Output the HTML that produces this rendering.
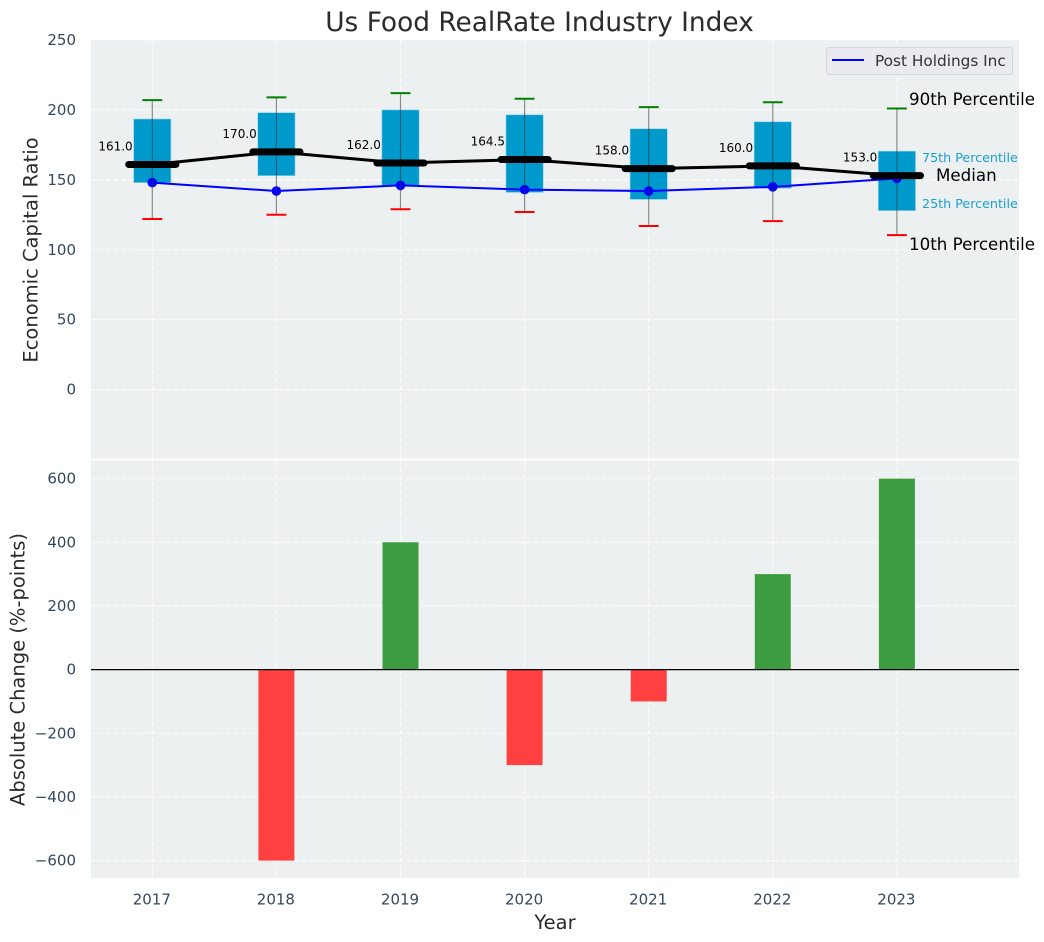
<!DOCTYPE html>
<html><head><meta charset="utf-8"><title>Us Food RealRate Industry Index</title>
<style>
html,body{margin:0;padding:0;background:#fff}
svg{display:block}
text{font-family:"DejaVu Sans","Liberation Sans",sans-serif}
</style></head>
<body>
<svg id="chart" width="1044" height="942" viewBox="0 0 1044 942" xmlns="http://www.w3.org/2000/svg"></svg>
<script>
const years = [2017, 2018, 2019, 2020, 2021, 2022, 2023];
const p90 = [207, 209, 212, 208, 202, 205.5, 201];
const p75 = [193.5, 198, 200, 196.5, 186.5, 191.5, 170.5];
const medians = [161, 170, 162, 164.5, 158, 160, 153];
const p25 = [148, 153, 146, 141, 136, 144, 128];
const p10 = [122, 125, 129, 127, 117, 120.5, 110.5];
const company = [148, 142, 146, 143, 142, 145, 151];
const changes = [0, -600, 400, -300, -100, 300, 600];
const topTicks = [0, 50, 100, 150, 200, 250];
const bottomTicks = [-600, -400, -200, 0, 200, 400, 600];

const svg = document.getElementById('chart');
const NS = 'http://www.w3.org/2000/svg';
function add(tag, attrs, name, text) {
  const e = document.createElementNS(NS, tag);
  for (const k in attrs) e.setAttribute(k, attrs[k]);
  
  
  if (text !== undefined) e.textContent = text;
  svg.appendChild(e);
  return e;
}
const L = 91, R = 1019, T1 = 40, B1 = 459.5, T2 = 459.5, B2 = 878;
const x = v => 152.3 + (v - 2017) * 124.1;
const y1 = v => B1 - (v + 50) / 300 * (B1 - T1);
const y2 = v => 669.6 - v * 0.3183;
const TICK = '#34495e', LABEL = '#2b2b2b', BG = '#ecf0f1', BOX = '#0099cc';
const hw = 0.15, capw = 0.08, medw = 0.19;

add('rect', {x: L, y: T1, width: R - L, height: B1 - T1, fill: BG}, 'top-panel-background');
add('rect', {x: L, y: T2, width: R - L, height: B2 - T2, fill: BG}, 'bottom-panel-background');

const grid = {stroke: '#fff', 'stroke-width': 1.1, 'stroke-dasharray': '5 2.5', opacity: 0.85};
topTicks.forEach(t => {
  add('line', {...grid, x1: L, x2: R, y1: y1(t), y2: y1(t)}, 'top-grid-line-y');
  add('text', {x: 76, y: y1(t) + 5, 'text-anchor': 'end', 'font-size': 15, fill: TICK}, 'top-y-tick-label', String(t));
});
bottomTicks.forEach(t => {
  add('line', {...grid, x1: L, x2: R, y1: y2(t), y2: y2(t)}, 'bottom-grid-line-y');
  add('text', {x: 76, y: y2(t) + 5, 'text-anchor': 'end', 'font-size': 15, fill: TICK}, 'bottom-y-tick-label', String(t).replace('-', '\u2212'));
});
years.forEach(yr => {
  add('line', {...grid, x1: x(yr), x2: x(yr), y1: T1, y2: B1}, 'top-grid-line-x');
  add('line', {...grid, x1: x(yr), x2: x(yr), y1: T2, y2: B2}, 'bottom-grid-line-x');
  add('text', {x: x(yr) - 0.5, y: 904.5, 'text-anchor': 'middle', 'font-size': 15, fill: TICK}, 'x-tick-label', String(yr));
});
add('line', {x1: L, x2: R, y1: B1, y2: B1, stroke: '#fff', 'stroke-width': 2}, 'panel-divider');

/* boxes */
years.forEach((yr, i) => {
  add('rect', {x: x(yr - hw), y: y1(p75[i]), width: x(yr + hw) - x(yr - hw), height: y1(p25[i]) - y1(p75[i]), fill: BOX, stroke: '#8fd0e6', 'stroke-width': 0.6}, 'box-' + yr);
});
/* company line */
add('polyline', {points: years.map((yr, i) => x(yr) + ',' + y1(company[i])).join(' '), fill: 'none', stroke: '#0000ff', 'stroke-width': 2}, 'post-holdings-line');
years.forEach((yr, i) => {
  add('circle', {cx: x(yr), cy: y1(company[i]), r: 4.8, fill: '#0000ff'}, 'post-holdings-point-' + yr);
});
/* whiskers */
years.forEach((yr, i) => {
  add('line', {x1: x(yr), x2: x(yr), y1: y1(p90[i]), y2: y1(p10[i]), stroke: '#333', 'stroke-opacity': 0.55, 'stroke-width': 1.2}, 'whisker-' + yr);
  add('line', {x1: x(yr - capw), x2: x(yr + capw), y1: y1(p90[i]), y2: y1(p90[i]), stroke: '#008000', 'stroke-width': 2}, 'p90-cap-' + yr);
  add('line', {x1: x(yr - capw), x2: x(yr + capw), y1: y1(p10[i]), y2: y1(p10[i]), stroke: '#ff0000', 'stroke-width': 2}, 'p10-cap-' + yr);
});
/* median */
add('polyline', {points: years.map((yr, i) => x(yr) + ',' + y1(medians[i])).join(' '), fill: 'none', stroke: '#000', 'stroke-width': 3}, 'median-line');
years.forEach((yr, i) => {
  add('line', {x1: x(yr - medw), x2: x(yr + medw), y1: y1(medians[i]), y2: y1(medians[i]), stroke: '#000', 'stroke-width': 7, 'stroke-linecap': 'round'}, 'median-bar-' + yr);
  add('text', {x: x(yr - hw) - 1, y: y1(medians[i]) - 14, 'text-anchor': 'end', 'font-size': 12, fill: '#000'}, 'median-value-label', medians[i].toFixed(1));
});
/* percentile annotations */
add('text', {x: 909, y: 105, 'font-size': 16.7, fill: '#000'}, 'annotation-90th-percentile', '90th Percentile');
add('text', {x: 922, y: 162, 'font-size': 12.7, fill: '#1a9fd0'}, 'annotation-75th-percentile', '75th Percentile');
add('text', {x: 936, y: 181, 'font-size': 16.7, fill: '#000'}, 'annotation-median', 'Median');
add('text', {x: 922, y: 208, 'font-size': 12.7, fill: '#1a9fd0'}, 'annotation-25th-percentile', '25th Percentile');
add('text', {x: 909, y: 250, 'font-size': 16.7, fill: '#000'}, 'annotation-10th-percentile', '10th Percentile');

/* legend */
add('rect', {x: 826.5, y: 47.5, width: 186, height: 27, rx: 3, fill: '#e9ebf0', stroke: '#d3d6da', 'stroke-width': 1}, 'legend-box');
add('line', {x1: 832, x2: 864, y1: 60, y2: 60, stroke: '#0000ff', 'stroke-width': 2}, 'legend-line-post-holdings');
add('text', {x: 875, y: 66, 'font-size': 15.3, fill: '#333'}, 'legend-label-post-holdings', 'Post Holdings Inc');

/* change bars */
years.forEach((yr, i) => {
  if (changes[i] === 0) return;
  const top = y2(Math.max(changes[i], 0)), bot = y2(Math.min(changes[i], 0));
  add('rect', {x: x(yr - 0.145), y: top, width: x(yr + 0.145) - x(yr - 0.145), height: bot - top, fill: changes[i] > 0 ? '#3c9c3f' : '#ff4040'}, 'change-bar-' + yr);
});
add('line', {x1: L, x2: R, y1: y2(0), y2: y2(0), stroke: '#000', 'stroke-width': 1.2}, 'zero-line');

/* titles */
add('text', {x: 539.5, y: 31, 'text-anchor': 'middle', 'font-size': 26.4, fill: LABEL}, 'chart-title', 'Us Food RealRate Industry Index');
add('text', {x: 555, y: 929, 'text-anchor': 'middle', 'font-size': 19.5, fill: LABEL}, 'x-axis-title', 'Year');
add('text', {x: 0, y: 0, transform: 'translate(37.5,250) rotate(-90)', 'text-anchor': 'middle', 'font-size': 19.5, fill: LABEL}, 'top-y-axis-title', 'Economic Capital Ratio');
add('text', {x: 0, y: 0, transform: 'translate(24.5,669.5) rotate(-90)', 'text-anchor': 'middle', 'font-size': 19.5, fill: LABEL}, 'bottom-y-axis-title', 'Absolute Change (%-points)');
</script>
</body></html>
